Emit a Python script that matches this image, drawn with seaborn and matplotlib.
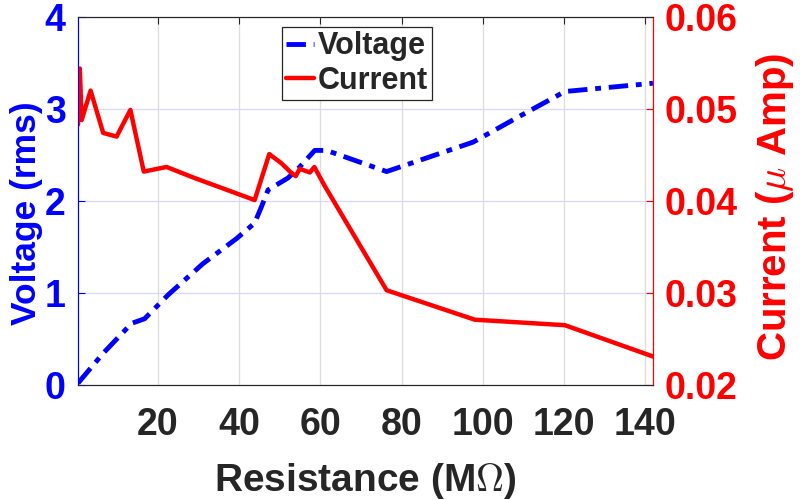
import matplotlib
matplotlib.use("Agg")
import matplotlib.pyplot as plt
import seaborn as sns
import pandas as pd
from matplotlib.lines import Line2D

# ---- data ----
res_v = [0.3, 6.5, 13.5, 16.7, 22.5, 31.1, 39.3, 43.8, 45.5, 47.1, 52.0, 54.9,
         58.6, 61.5, 76.3, 97.6, 109.0, 120.2, 141.9]
voltage = [0.02, 0.345, 0.67, 0.72, 0.98, 1.32, 1.59, 1.76, 1.94, 2.12, 2.25, 2.37,
           2.55, 2.55, 2.32, 2.64, 2.92, 3.19, 3.28]
res_i = [0.3, 0.75, 1.2, 3.4, 6.5, 9.8, 13.2, 16.5, 22.1, 29.0, 43.8, 47.4, 50.4,
         52.5, 53.9, 54.9, 57.4, 58.5, 61.1, 76.3, 98.0, 120.2, 141.9]
current = [0.0483, 0.0544, 0.0488, 0.0520, 0.0474, 0.0470, 0.0499, 0.0432, 0.0437,
           0.0425, 0.0401, 0.0451, 0.0441, 0.0432, 0.0427, 0.0435, 0.0431, 0.0437,
           0.0416, 0.0303, 0.0271, 0.0265, 0.0231]
x_ticks = [20, 40, 60, 80, 100, 120, 140]
v_ticks = [0, 1, 2, 3, 4]
i_ticks = [0.02, 0.03, 0.04, 0.05, 0.06]
i_tick_labels = ["0.02", "0.03", "0.04", "0.05", "0.06"]

sns.set_style("white")
plt.rcParams["font.family"] = ["Liberation Sans", "DejaVu Sans"]
plt.rcParams["font.weight"] = "bold"
plt.rcParams["mathtext.fontset"] = "cm"

BLUE = "#0000ff"
RED = "#ff0000"
DARK = "#262626"

df_v = pd.DataFrame({"Resistance": res_v, "Voltage": voltage})
df_i = pd.DataFrame({"Resistance": res_i, "Current": current})

fig = plt.figure(figsize=(8, 5), dpi=100)
ax = fig.add_axes([78 / 800, 1 - 385 / 500, (653 - 78) / 800, (385 - 17) / 500])
ax2 = ax.twinx()

sns.lineplot(data=df_v, x="Resistance", y="Voltage", ax=ax, color=BLUE,
             lw=3.5, estimator=None, sort=False)
ax.lines[-1].set_dashes([4, 1.6, 1.2, 1.6])
sns.lineplot(data=df_i, x="Resistance", y="Current", ax=ax2, color=RED,
             lw=3.2, estimator=None, sort=False)

ax.set_xlim(0.3, 141.9)
ax.set_ylim(0, 4)
ax2.set_ylim(0.02, 0.06)
ax.set_xticks(x_ticks)
ax.set_yticks(v_ticks)
ax2.set_yticks(i_ticks)
ax2.set_yticklabels(i_tick_labels)

# grid
ax.grid(False)
ax.xaxis.grid(True, color="#dcdcdc", lw=0.9)
ax.yaxis.grid(True, color="#d6d6ff", lw=0.9)
ax.set_axisbelow(True)

# spines
for a in (ax, ax2):
    a.spines["top"].set_color(DARK)
    a.spines["bottom"].set_color(DARK)
    a.spines["top"].set_linewidth(0.8)
    a.spines["bottom"].set_linewidth(0.8)
    a.spines["left"].set_color(BLUE)
    a.spines["right"].set_color(RED)
    a.spines["left"].set_linewidth(0.8)
    a.spines["right"].set_linewidth(0.8)

ax.tick_params(axis="x", direction="in", length=5, width=0.8, colors=DARK,
               labelsize=27, pad=16, top=True)
ax.tick_params(axis="y", direction="in", length=5, width=0.8, colors=BLUE,
               labelsize=27, pad=9, left=True)
ax2.tick_params(axis="y", direction="in", length=5, width=0.8, colors=RED,
                labelsize=27, pad=8, right=True)
for lab in ax.get_xticklabels() + ax.get_yticklabels() + ax2.get_yticklabels():
    lab.set_fontweight("bold")

ax.set_xlabel(r"Resistance (M$\Omega$)", fontsize=28, fontweight="bold", color=DARK,
              labelpad=13)
ax.set_ylabel("Voltage (rms)", fontsize=25.5, fontweight="bold", color=BLUE,
              labelpad=1)
ax.yaxis.label.set_y(0.467)
ax2.set_ylabel(r"Current ($\mu$ Amp)", fontsize=29, fontweight="bold", color=RED,
               rotation=90, labelpad=12)
ax2.yaxis.label.set_y(0.484)

handles = [Line2D([], [], color=BLUE, lw=3.5, dashes=[4, 1.6, 1.2, 1.6]),
           Line2D([], [], color=RED, lw=3.2)]
leg = ax2.legend(handles, ["Voltage", "Current"], loc="upper left",
                 bbox_to_anchor=(281.7 / 800, 1 - 26.7 / 500),
                 bbox_transform=fig.transFigure, fontsize=22, frameon=True,
                 fancybox=False, edgecolor=DARK, framealpha=1,
                 handlelength=0.9, handletextpad=0.12, labelspacing=0.15,
                 borderpad=0.15, borderaxespad=0)
leg.get_frame().set_linewidth(0.9)
for t in leg.get_texts():
    t.set_fontweight("bold")

fig.savefig("out.png", dpi=100)
